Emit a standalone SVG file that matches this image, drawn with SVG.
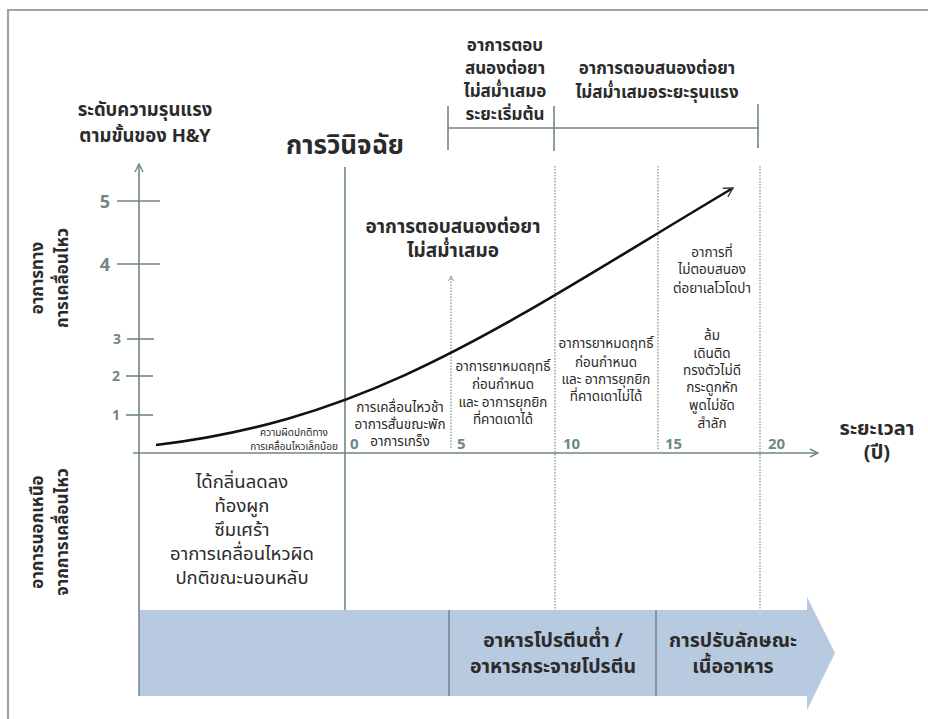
<svg xmlns="http://www.w3.org/2000/svg" width="928" height="719" viewBox="0 0 928 719">
  <defs>
    <style>
      text { font-family: "Noto Sans Thai", "Noto Sans", "DejaVu Sans", sans-serif; fill: #2b2b2b; }
      .b { font-weight: bold; }
      .c { text-anchor: middle; }
      .axis { stroke: #6f8686; stroke-width: 1.6; fill: none; }
      .dot { stroke: #7a8a8a; stroke-width: 1.2; stroke-dasharray: 1.5 1.5; fill: none; }
      .num { fill: #6f8686; font-weight: bold; }
      .small { font-size: 13.5px; }
      .band { font-size: 19.5px; font-weight: bold; }
      .head { font-size: 17px; font-weight: bold; }
      .side { font-size: 17px; font-weight: bold; }
    </style>
    <marker id="chev" viewBox="0 0 10 10" refX="9" refY="5" markerWidth="10" markerHeight="10" markerUnits="userSpaceOnUse" orient="auto">
      <path d="M1,1 L9,5 L1,9" fill="none" stroke="#6f8686" stroke-width="1.4"/>
    </marker>
    <marker id="chevDark" viewBox="0 0 12 12" refX="10" refY="6" markerWidth="12" markerHeight="12" markerUnits="userSpaceOnUse" orient="auto">
      <path d="M1,1 L10,6 L1,11" fill="none" stroke="#444" stroke-width="1.4"/>
    </marker>
    <marker id="chevDot" viewBox="0 0 8 8" refX="7" refY="4" markerWidth="7" markerHeight="7" markerUnits="userSpaceOnUse" orient="auto">
      <path d="M1,1 L7,4 L1,7" fill="none" stroke="#7a8a8a" stroke-width="1"/>
    </marker>
  </defs>

  <rect width="928" height="719" fill="#ffffff"/>
  <!-- frame -->
  <path d="M8,719 V10 H928" fill="none" stroke="#a3a3a3" stroke-width="2.2"/>

  <!-- diet band -->
  <g id="diet-band">
    <path d="M139,610 H807 V597 L835,653 L807,710 V696 H139 Z" fill="#b8cadf"/>
    <line x1="139" y1="610" x2="139" y2="696" stroke="#6f7f85" stroke-width="1.4"/>
    <line x1="449" y1="610" x2="449" y2="696" stroke="#6f7f85" stroke-width="1.4"/>
    <line x1="656" y1="610" x2="656" y2="696" stroke="#6f7f85" stroke-width="1.4"/>
    <text class="c band" x="553" y="647">อาหารโปรตีนต่ำ /</text>
    <text class="c band" x="553" y="673">อาหารกระจายโปรตีน</text>
    <text class="c band" x="733" y="647">การปรับลักษณะ</text>
    <text class="c band" x="733" y="673">เนื้ออาหาร</text>
  </g>

  <!-- axes and guide lines -->
  <g id="connectors">
    <line class="axis" x1="139" y1="610" x2="139" y2="164" marker-end="url(#chev)"/>
    <line class="axis" x1="133" y1="453" x2="818" y2="453" marker-end="url(#chev)"/>
    <line class="axis" x1="345" y1="167" x2="345" y2="610"/>
    <!-- y ticks -->
    <line class="axis" x1="117" y1="201" x2="160" y2="201"/>
    <line class="axis" x1="117" y1="264" x2="160" y2="264"/>
    <line class="axis" x1="127" y1="339" x2="154" y2="339"/>
    <line class="axis" x1="126" y1="376" x2="153" y2="376"/>
    <line class="axis" x1="126" y1="415" x2="153" y2="415"/>
    <!-- period separators -->
    <line class="dot" x1="451" y1="448" x2="451" y2="276" marker-end="url(#chevDot)"/>
    <line class="dot" x1="555" y1="166" x2="555" y2="610"/>
    <line class="dot" x1="658" y1="166" x2="658" y2="449"/>
    <line class="dot" x1="760" y1="166" x2="760" y2="610"/>
    <!-- bracket above the periods -->
    <line class="axis" x1="448" y1="128" x2="758" y2="128"/>
    <line class="axis" x1="448" y1="106" x2="448" y2="150"/>
    <line class="axis" x1="554" y1="106" x2="554" y2="151"/>
    <line class="axis" x1="758" y1="104" x2="758" y2="148"/>
    <!-- progression curve -->
    <path d="M156,445 C376,418.6 503,325 733,188" fill="none" stroke="#111" stroke-width="2.6" marker-end="url(#chevDark)"/>
  </g>

  <!-- axis titles -->
  <g id="y-title">
    <text class="c b" font-size="18.5" x="145" y="116">ระดับความรุนแรง</text>
    <text class="c b" font-size="18.5" x="145" y="142">ตามขั้นของ H&amp;Y</text>
  </g>
  <g id="x-title">
    <text class="c b" font-size="20" x="877" y="435">ระยะเวลา</text>
    <text class="c b" font-size="20" x="877" y="459">(ปี)</text>
  </g>
  <g id="motor-label">
    <text class="c side" transform="translate(43,278) rotate(-90)">อาการทาง</text>
    <text class="c side" transform="translate(68,278) rotate(-90)">การเคลื่อนไหว</text>
  </g>
  <g id="nonmotor-label">
    <text class="c side" transform="translate(43,532) rotate(-90)">อาการนอกเหนือ</text>
    <text class="c side" transform="translate(68,532) rotate(-90)">จากการเคลื่อนไหว</text>
  </g>

  <!-- scale numbers -->
  <g id="y-scale">
    <text class="num" font-size="18" x="105" y="208" text-anchor="middle">5</text>
    <text class="num" font-size="18" x="105" y="271" text-anchor="middle">4</text>
    <text class="num" font-size="14" x="117" y="344" text-anchor="middle">3</text>
    <text class="num" font-size="14" x="116" y="381" text-anchor="middle">2</text>
    <text class="num" font-size="14" x="116" y="420" text-anchor="middle">1</text>
  </g>
  <g id="x-scale">
    <text class="num" font-size="15" x="350" y="449">0</text>
    <text class="num" font-size="15" x="457" y="449">5</text>
    <text class="num" font-size="15" x="563" y="449">10</text>
    <text class="num" font-size="15" x="665" y="449">15</text>
    <text class="num" font-size="15" x="768" y="449">20</text>
  </g>

  <!-- headings -->
  <g id="diagnosis">
    <text class="c b" font-size="26" x="345" y="154">การวินิจฉัย</text>
  </g>
  <g id="early-fluctuation">
    <text class="c head" x="505" y="51">อาการตอบ</text>
    <text class="c head" x="505" y="74">สนองต่อยา</text>
    <text class="c head" x="505" y="97">ไม่สม่ำเสมอ</text>
    <text class="c head" x="505" y="120">ระยะเริ่มต้น</text>
  </g>
  <g id="severe-fluctuation">
    <text class="c head" x="657" y="74">อาการตอบสนองต่อยา</text>
    <text class="c head" x="657" y="98">ไม่สม่ำเสมอระยะรุนแรง</text>
  </g>
  <g id="fluctuation">
    <text class="c b" font-size="19" x="453" y="233">อาการตอบสนองต่อยา</text>
    <text class="c b" font-size="19" x="453" y="257">ไม่สม่ำเสมอ</text>
  </g>

  <!-- symptoms by period -->
  <g id="prodromal-motor">
    <text class="c" font-size="10" x="294" y="436">ความผิดปกติทาง</text>
    <text class="c" font-size="10" x="294" y="450">การเคลื่อนไหวเล็กน้อย</text>
  </g>
  <g id="early-motor">
    <text class="c small" x="400" y="412">การเคลื่อนไหวช้า</text>
    <text class="c small" x="400" y="429">อาการสั่นขณะพัก</text>
    <text class="c small" x="400" y="446">อาการเกร็ง</text>
  </g>
  <g id="predictable">
    <text class="c small" x="503" y="371">อาการยาหมดฤทธิ์</text>
    <text class="c small" x="503" y="389">ก่อนกำหนด</text>
    <text class="c small" x="503" y="407">และ อาการยุกยิก</text>
    <text class="c small" x="503" y="424">ที่คาดเดาได้</text>
  </g>
  <g id="unpredictable">
    <text class="c small" x="606" y="348">อาการยาหมดฤทธิ์</text>
    <text class="c small" x="606" y="367">ก่อนกำหนด</text>
    <text class="c small" x="606" y="384">และ อาการยุกยิก</text>
    <text class="c small" x="606" y="401">ที่คาดเดาไม่ได้</text>
  </g>
  <g id="levodopa-resistant">
    <text class="c small" x="712" y="257">อาการที่</text>
    <text class="c small" x="712" y="274">ไม่ตอบสนอง</text>
    <text class="c small" x="712" y="293">ต่อยาเลโวโดปา</text>
    <text class="c small" x="712" y="340">ล้ม</text>
    <text class="c small" x="712" y="358">เดินติด</text>
    <text class="c small" x="712" y="375">ทรงตัวไม่ดี</text>
    <text class="c small" x="712" y="392">กระดูกหัก</text>
    <text class="c small" x="712" y="410">พูดไม่ชัด</text>
    <text class="c small" x="712" y="428">สำลัก</text>
  </g>
  <g id="nonmotor">
    <text class="c" font-size="18.5" x="242" y="488">ได้กลิ่นลดลง</text>
    <text class="c" font-size="18.5" x="242" y="512">ท้องผูก</text>
    <text class="c" font-size="18.5" x="242" y="536">ซึมเศร้า</text>
    <text class="c" font-size="18.5" x="242" y="560">อาการเคลื่อนไหวผิด</text>
    <text class="c" font-size="18.5" x="242" y="584">ปกติขณะนอนหลับ</text>
  </g>
</svg>
